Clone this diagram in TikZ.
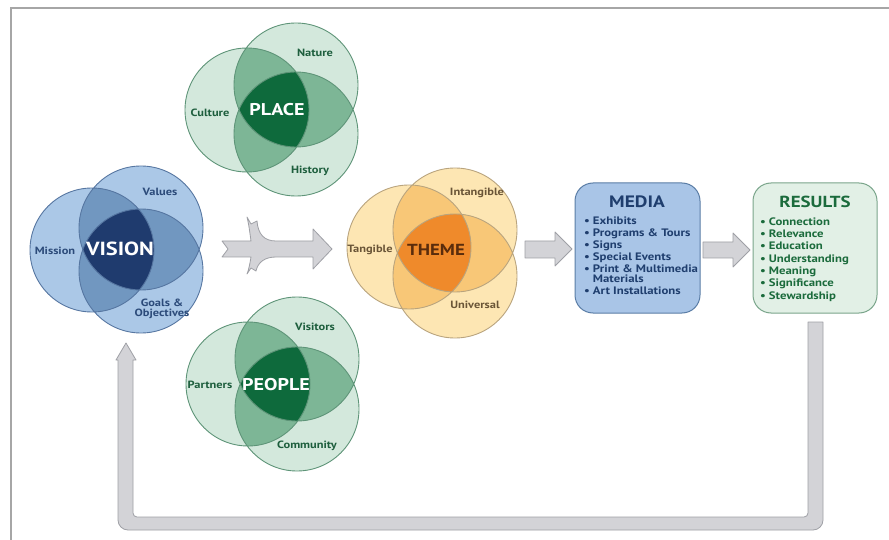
\documentclass[tikz,border=0pt]{standalone}
\usepackage{fontspec}
\setmainfont{PT Sans}[FakeStretch=1.18]
\definecolor{framecol}{HTML}{A6A6A6}
\definecolor{vlight}{HTML}{ABC8E7}
\definecolor{vmid}{HTML}{7197C0}
\definecolor{vdark}{HTML}{1F3B6E}
\definecolor{vline}{HTML}{5676A1}
\definecolor{vtext}{HTML}{2C4B7A}
\definecolor{glight}{HTML}{D3E8DC}
\definecolor{gmid}{HTML}{7DB696}
\definecolor{gdark}{HTML}{0E6A3C}
\definecolor{gline}{HTML}{5E9478}
\definecolor{gtext}{HTML}{1D5E3D}
\definecolor{ylight}{HTML}{FDE6B3}
\definecolor{ymid}{HTML}{F8C777}
\definecolor{ydark}{HTML}{EF8A2B}
\definecolor{yline}{HTML}{B9A47E}
\definecolor{ytext}{HTML}{6A5537}
\definecolor{ythem}{HTML}{5A2C0C}
\definecolor{afill}{HTML}{D3D3D7}
\definecolor{aline}{HTML}{9FA0A6}
\definecolor{mfill}{HTML}{A9C5E7}
\definecolor{mline}{HTML}{5A7DA6}
\definecolor{mtext}{HTML}{1F3E6E}
\definecolor{rfill}{HTML}{E2F0E6}
\definecolor{rline}{HTML}{7AA58B}
\definecolor{rtext}{HTML}{1B6B3C}
\newcommand\myvenn[5]{%
  \fill[#2] (#1L) circle (62); \fill[#2] (#1T) circle (62); \fill[#2] (#1B) circle (62);
  \begin{scope}\clip (#1L) circle (62); \fill[#3] (#1T) circle (62); \fill[#3] (#1B) circle (62); \end{scope}
  \begin{scope}\clip (#1T) circle (62); \fill[#3] (#1B) circle (62); \end{scope}
  \begin{scope}\clip (#1L) circle (62); \clip (#1T) circle (62); \fill[#4] (#1B) circle (62); \end{scope}
  \draw[#5, line width=0.9] (#1L) circle (62) (#1T) circle (62) (#1B) circle (62);
}
\begin{document}
\begin{tikzpicture}[x=1pt,y=-1pt,
  lab/.style={font=\bfseries\fontsize{10.5}{11}\selectfont, align=center},
  bigt/.style={font=\bfseries\fontsize{17}{17}\selectfont},
  blockarrow/.style={fill=afill, draw=aline, line width=0.8, line join=round},
  boxtitle/.style={font=\bfseries\fontsize{16.5}{17}\selectfont},
  boxlist/.style={align=left, inner sep=0pt}]
\useasboundingbox (0,0) rectangle (889,540);
\fill[white] (0,0) rectangle (889,540);
\draw[framecol, line width=1.8] (11,540) -- (11,8) -- (889,8);

% VISION
\coordinate (vL) at (92,250); \coordinate (vT) at (141,228); \coordinate (vB) at (141,271);
\myvenn{v}{vlight}{vmid}{vdark}{vline}
\node[bigt, white, font=\bfseries\fontsize{19}{19}\selectfont] (vision) at (120,249) {VISION};
\node[lab, vtext] (mission) at (55,251) {Mission};
\node[lab, vtext] (values) at (160,192) {Values};
\node[lab, vtext, font=\bfseries\fontsize{10.5}{10.5}\selectfont] (goals) at (162,309) {Goals \&\\Objectives};

% PLACE
\coordinate (pL) at (247,110); \coordinate (pT) at (296,85); \coordinate (pB) at (296,134);
\myvenn{p}{glight}{gmid}{gdark}{gline}
\node[bigt, white] (place) at (277,110) {PLACE};
\node[lab, gtext] (culture) at (210,113) {Culture};
\node[lab, gtext] (nature) at (315,53) {Nature};
\node[lab, gtext] (history) at (310,171) {History};

% PEOPLE
\coordinate (qL) at (248,384); \coordinate (qT) at (297,359); \coordinate (qB) at (297,409);
\myvenn{q}{glight}{gmid}{gdark}{gline}
\node[bigt, white] (people) at (276,385) {PEOPLE};
\node[lab, gtext] (partners) at (210,385) {Partners};
\node[lab, gtext] (visitors) at (315,327) {Visitors};
\node[lab, gtext] (community) at (307,446) {Community};

% THEME
\coordinate (tL) at (409,247); \coordinate (tT) at (455,230); \coordinate (tB) at (455,276);
\myvenn{t}{ylight}{ymid}{ydark}{yline}
\node[bigt, ythem, font=\bfseries\fontsize{16}{16}\selectfont] (theme) at (436,250) {THEME};
\node[lab, ytext] (tangible) at (370,250) {Tangible};
\node[lab, ytext] (intangible) at (477,193) {Intangible};
\node[lab, ytext] (universal) at (475,305) {Universal};

% converging arrow
\draw[blockarrow] (222,241) -- (228,249) -- (222,257) -- (251,257)
  .. controls (250,263) and (249,269) .. (247,274) -- (251,268) -- (256,271)
  .. controls (258,262) and (265,257) .. (276,257) -- (313,257) -- (313,269) -- (332,249)
  -- (313,229) -- (313,241) -- (276,241)
  .. controls (264,241) and (258,234) .. (257,221) -- (251,224) -- (247,217)
  .. controls (249,225) and (250,234) .. (251,241) -- cycle;

% MEDIA box
\node[draw=mline, fill=mfill, line width=1, rounded corners=18, minimum width=125, minimum height=130] (media) at (637.5,248) {};
\node[boxtitle, mtext] (mediat) at (637,202) {MEDIA};
\node[boxlist, mtext, anchor=north west] (medial) at (584,216.5) {%
\bfseries\fontsize{10.8}{11.8}\selectfont
\begin{tabular}{@{}l@{\hspace{3pt}}l@{}}
• & Exhibits\\
• & Programs \& Tours\\
• & Signs\\
• & Special Events\\
• & Print \& Multimedia\\[-1.5pt]
  & Materials\\
• & Art Installations
\end{tabular}};

% RESULTS box
\node[draw=rline, fill=rfill, line width=1, rounded corners=18, minimum width=124, minimum height=130] (results) at (815,248) {};
\node[boxtitle, rtext, font=\bfseries\fontsize{16}{16}\selectfont] (resultst) at (815,202) {RESULTS};
\node[boxlist, rtext, anchor=north west] (resultsl) at (760,216.5) {%
\bfseries\fontsize{10.8}{12.3}\selectfont
\begin{tabular}{@{}l@{\hspace{3pt}}l@{}}
• & Connection\\
• & Relevance\\
• & Education\\
• & Understanding\\
• & Meaning\\
• & Significance\\
• & Stewardship
\end{tabular}};

% THEME -> MEDIA
\draw[blockarrow] (525,241) -- (555,241) -- (555,232) -- (572,249) -- (555,266) -- (555,258) -- (525,258) -- cycle;
% MEDIA -> RESULTS
\draw[blockarrow] (703,242) -- (733,242) -- (733,233) -- (750,250) -- (733,267) -- (733,258) -- (703,258) -- cycle;

% feedback arrow
\draw[blockarrow] (808,322) -- (823,322) [rounded corners=10]-- (823,530) -- (118,530) [sharp corners]-- (118,360)
  -- (116,360) -- (126,343) -- (136,360) -- (133,360) [rounded corners=4]-- (133,517) -- (808,517) [sharp corners]-- cycle;
\end{tikzpicture}
\end{document}
